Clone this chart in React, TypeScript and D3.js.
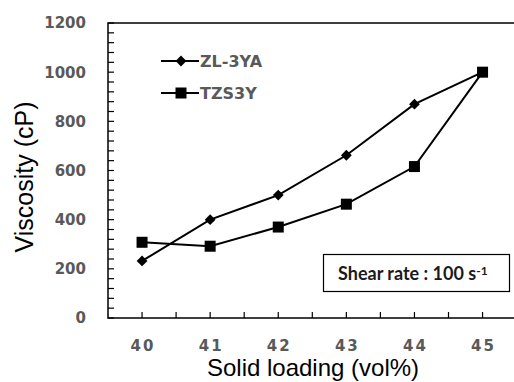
import React, { useEffect, useRef } from 'react';
import * as d3 from 'd3';

const loadings = [40, 41, 42, 43, 44, 45];
const zl3ya = [232, 400, 500, 662, 870, 1000];
const tzs3y = [308, 292, 370, 463, 616, 1000];
const yTickLabels = [0, 200, 400, 600, 800, 1000, 1200];

const App = () => {
  const svgRef = useRef<SVGSVGElement>(null);

  useEffect(() => {
    const width = 514;
    const height = 382;
    const margin = { top: 23, left: 108, bottom: 64 };
    const innerHeight = height - margin.top - margin.bottom;

    const svg = d3.select(svgRef.current);
    svg.selectAll('*').remove();
    svg.attr('width', width).attr('height', height);

    // x domain is padded half a unit each side, plot runs past the right edge
    const x = d3.scaleLinear().domain([39.5, 45.5]).range([margin.left, margin.left + 408.6]);
    const y = d3.scaleLinear().domain([0, 1200]).range([margin.top + innerHeight, margin.top]);

    const labelColor = '#595959';

    // frame: top + left + bottom
    svg.append('path')
      .attr('d', `M${x(45.5)},${y(1200)}H${x(39.5)}V${y(0)}H${x(45.5)}`)
      .attr('fill', 'none')
      .attr('stroke', '#000')
      .attr('stroke-width', 1.5);

    // y ticks, inward
    d3.range(0, 1201, 40).forEach(v => {
      svg.append('line')
        .attr('x1', x(39.5)).attr('x2', x(39.5) + 6)
        .attr('y1', y(v)).attr('y2', y(v))
        .attr('stroke', '#000').attr('stroke-width', 1.2);
    });
    yTickLabels.forEach(v => {
      svg.append('text')
        .attr('x', 86).attr('y', y(v))
        .attr('dy', '0.36em')
        .attr('text-anchor', 'end')
        .style('font-family', '"DejaVu Sans", sans-serif')
        .style('font-weight', 'bold')
        .style('font-size', '15px')
        .style('fill', labelColor)
        .text(v);
    });

    // x ticks, inward (upwards)
    d3.range(40, 45.01, 0.5).forEach(v => {
      svg.append('line')
        .attr('x1', x(v)).attr('x2', x(v))
        .attr('y1', y(0)).attr('y2', y(0) - 6)
        .attr('stroke', '#000').attr('stroke-width', 1.2);
    });
    loadings.forEach(v => {
      svg.append('text')
        .attr('x', x(v) + 1).attr('y', 346)
        .attr('dy', '0.36em')
        .attr('text-anchor', 'middle')
        .style('font-family', '"DejaVu Sans", sans-serif')
        .style('font-weight', 'bold')
        .style('font-size', '15px')
        .style('letter-spacing', '2px')
        .style('fill', labelColor)
        .text(v);
    });

    // axis titles
    svg.append('text')
      .attr('x', 313).attr('y', 376)
      .attr('text-anchor', 'middle')
      .style('font-family', '"Liberation Sans", Arial, sans-serif')
      .style('font-size', '24px')
      .text('Solid loading (vol%)');

    svg.append('text')
      .attr('transform', `translate(33,${177}) rotate(-90)`)
      .attr('text-anchor', 'middle')
      .style('font-family', '"Liberation Sans", Arial, sans-serif')
      .style('font-size', '25px')
      .text('Viscosity (cP)');

    const line = d3.line<number>()
      .x((d, i) => x(loadings[i]))
      .y(d => y(d));

    const diamond = d3.symbol().type(d3.symbolDiamond2).size(74);

    // ZL-3YA
    svg.append('path')
      .datum(zl3ya)
      .attr('d', line)
      .attr('fill', 'none')
      .attr('stroke', '#000')
      .attr('stroke-width', 2);
    zl3ya.forEach((v, i) => {
      svg.append('path')
        .attr('d', diamond)
        .attr('transform', `translate(${x(loadings[i])},${y(v)})`)
        .attr('fill', '#000');
    });

    // TZS3Y
    svg.append('path')
      .datum(tzs3y)
      .attr('d', line)
      .attr('fill', 'none')
      .attr('stroke', '#000')
      .attr('stroke-width', 2);
    tzs3y.forEach((v, i) => {
      svg.append('rect')
        .attr('x', x(loadings[i]) - 5.5)
        .attr('y', y(v) - 5.5)
        .attr('width', 11).attr('height', 11)
        .attr('fill', '#000');
    });

    // legend
    const legend = [
      { name: 'ZL-3YA', ly: 61, marker: 'diamond' },
      { name: 'TZS3Y', ly: 93, marker: 'square' },
    ];
    legend.forEach(item => {
      svg.append('line')
        .attr('x1', 161).attr('x2', 199)
        .attr('y1', item.ly).attr('y2', item.ly)
        .attr('stroke', '#000').attr('stroke-width', 2);
      if (item.marker === 'diamond') {
        svg.append('path')
          .attr('d', diamond)
          .attr('transform', `translate(181,${item.ly})`)
          .attr('fill', '#000');
      } else {
        svg.append('rect')
          .attr('x', 181 - 5.5).attr('y', item.ly - 5.5)
          .attr('width', 11).attr('height', 11)
          .attr('fill', '#000');
      }
      svg.append('text')
        .attr('x', 200).attr('y', item.ly)
        .attr('dy', '0.36em')
        .style('font-family', '"DejaVu Sans", sans-serif')
        .style('font-weight', 'bold')
        .style('font-size', '16px')
        .style('fill', labelColor)
        .text(item.name);
    });

    // annotation box
    svg.append('rect')
      .attr('x', 323.5).attr('y', 254.5)
      .attr('width', 186).attr('height', 37)
      .attr('fill', '#fff')
      .attr('stroke', '#000')
      .attr('stroke-width', 1.2);
    const note = svg.append('text')
      .attr('x', 338).attr('y', 274)
      .attr('dy', '0.36em')
      .style('font-family', 'Lato, sans-serif')
      .style('font-weight', 'bold')
      .style('font-size', '18px')
      .style('fill', '#1a1a1a');
    note.append('tspan').text('Shear rate : 100 s');
    note.append('tspan')
      .attr('dy', '-0.45em')
      .style('font-size', '12px')
      .text('-1');
  }, []);

  return (
    <div style={{ position: 'absolute', left: 0, top: 0, background: '#fff' }}>
      <svg ref={svgRef} style={{ display: 'block' }}></svg>
    </div>
  );
};

export default App;
